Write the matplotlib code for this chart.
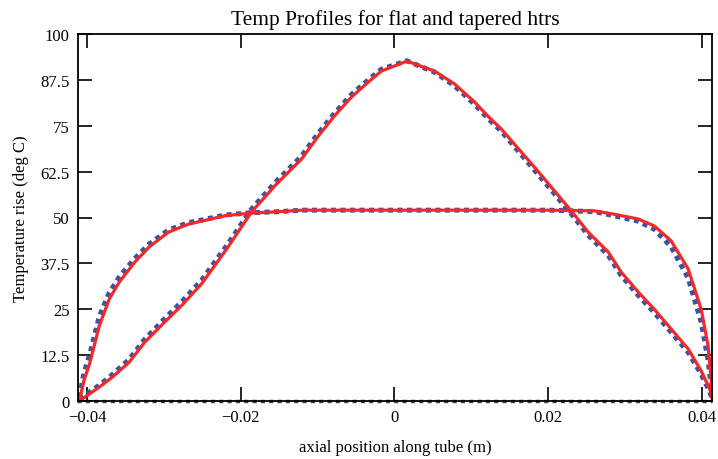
import matplotlib
matplotlib.use("Agg")
import matplotlib.pyplot as plt

# Flat heater profile
flat_x = [-0.0410, -0.0404, -0.0396, -0.0384, -0.0371, -0.0358, -0.0338, -0.0319, -0.0294,
          -0.0268, -0.0251, -0.0220, -0.0186, -0.0150, -0.0120, 0.0000, 0.0120, 0.0200,
          0.0260, 0.0283, 0.0317, 0.0338, 0.0360, 0.0382, 0.0399, 0.0408, 0.0414]
flat_red = [0, 5.5, 10.6, 20.5, 27.8, 32.4, 37.8, 42.0, 46.0,
            48.2, 49.0, 50.5, 51.2, 51.6, 52.0, 52.0, 52.0, 52.0,
            51.8, 51.0, 49.6, 47.7, 43.6, 36.0, 25.0, 15.0, 1.0]
flat_blue = [1.0, 7.5, 13.0, 23.0, 29.5, 33.8, 38.8, 42.8, 46.6,
             48.6, 49.3, 50.7, 51.3, 51.6, 52.0, 52.0, 52.0, 52.0,
             51.6, 50.6, 49.0, 46.8, 42.0, 33.5, 21.5, 11.0, 0.5]

# Tapered heater profile
taper_x = [-0.0410, -0.0384, -0.0367, -0.0345, -0.0325, -0.0299, -0.0277, -0.0251, -0.0218,
           -0.0186, -0.0154, -0.0121, -0.0099, -0.0078, -0.0056, -0.0034, -0.0017, 0.0016,
           0.0052, 0.0078, 0.0104, 0.0122, 0.0139, 0.0185, 0.0230, 0.0252, 0.0278, 0.0295,
           0.0317, 0.0338, 0.0360, 0.0382, 0.0399, 0.0410, 0.0414]
taper_red = [0, 3.8, 6.5, 10.6, 16.0, 21.5, 26.0, 31.9, 41.5,
             51.5, 59.0, 65.9, 72.2, 77.7, 82.8, 86.9, 89.9, 92.6,
             89.9, 86.4, 81.5, 77.5, 74.1, 63.0, 51.8, 46.0, 40.6, 35.1,
             29.7, 25.0, 19.6, 14.2, 8.2, 3.3, 0]
taper_blue = [0.5, 4.3, 7.2, 11.4, 16.8, 22.4, 27.0, 32.9, 42.4,
              52.3, 59.8, 66.7, 73.0, 78.4, 83.5, 87.5, 90.4, 92.7,
              89.6, 85.9, 80.9, 76.9, 73.5, 62.2, 51.0, 45.2, 39.7, 34.2,
              28.8, 24.1, 18.7, 13.3, 7.3, 2.6, 0]

zero_x = [-0.0413, 0.0413]
zero_y = [0, 0]

title = "Temp Profiles for flat and tapered htrs"
xlabel = "axial position along tube (m)"
ylabel = "Temperature rise (deg C)"
xticks = [-0.04, -0.02, 0, 0.02, 0.04]
xticklabels = ["\u22120.04", "\u22120.02", "0", "0.02", "0.04"]
yticks = [0, 12.5, 25, 37.5, 50, 62.5, 75, 87.5, 100]
yticklabels = ["0", "12.5", "25", "37.5", "50", "62.5", "75", "87.5", "100"]

plt.rcParams['font.family'] = ['Liberation Serif', 'DejaVu Serif']

fig = plt.figure(figsize=(7.18, 4.60), dpi=100)
ax = fig.add_axes([0.1086, 0.126, 0.8830, 0.798])

blue = '#3b52a5'
red = '#f42828'

ax.plot(zero_x, zero_y, color='#444444', lw=2.5, linestyle=(0, (1.2, 1.2)), clip_on=False, zorder=3)
ax.plot(flat_x, flat_blue, color=blue, lw=3.6, linestyle=(0, (1.0, 0.9)), solid_capstyle='butt', zorder=4)
ax.plot(taper_x, taper_blue, color=blue, lw=3.6, linestyle=(0, (1.0, 0.9)), solid_capstyle='butt', zorder=4)
ax.plot(flat_x, flat_red, color=red, lw=2.3, zorder=5)
ax.plot(taper_x, taper_red, color=red, lw=2.3, zorder=5)

ax.set_xlim(-0.04117, 0.0413)
ax.set_ylim(0, 100)
ax.set_xticks(xticks)
ax.set_xticklabels(xticklabels)
ax.set_yticks(yticks)
ax.set_yticklabels(yticklabels)
ax.tick_params(direction='in', length=10, width=1.2, top=True, right=True,
               labelsize=12, colors='black', pad=6)
for s in ax.spines.values():
    s.set_linewidth(1.3)
    s.set_zorder(6)

ax.set_title(title, fontsize=15.5, pad=7)
ax.set_xlabel(xlabel, fontsize=12, labelpad=10)
ax.set_ylabel(ylabel, fontsize=12, labelpad=8)

fig.savefig("out.png", dpi=100)
